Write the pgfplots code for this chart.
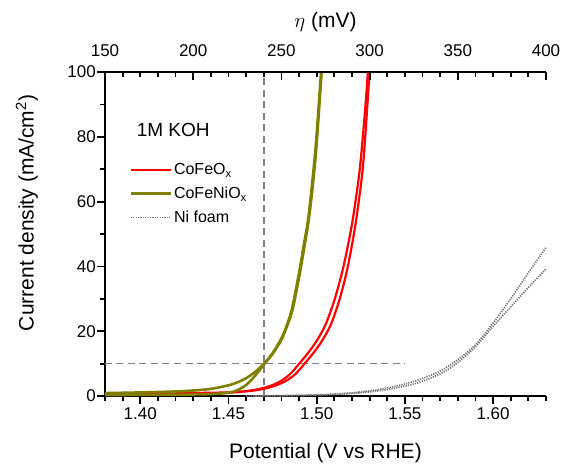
\documentclass[border=0pt]{standalone}
\usepackage{fontspec}
\setmainfont{Liberation Sans}
\usepackage{pgfplots}
\pgfplotsset{compat=1.18}
\definecolor{olivec}{RGB}{128,128,0}
\definecolor{redc}{RGB}{255,0,0}
\definecolor{dashc}{RGB}{128,128,128}
\definecolor{nic}{RGB}{115,115,115}
\pgfplotsset{
  every tick/.style={black, line width=1.8pt},
  every minor tick/.style={black, line width=1.8pt},
  every major tick/.style={black, line width=1.8pt},
  common/.style={
    scale only axis, width=441pt, height=324pt,
    ymin=0, ymax=100,
    /pgf/number format/assume math mode=true,
    tick label style={font=\fontsize{17}{20}\selectfont},
    axis line style={line width=1.8pt, -},
    major tick length=8pt, minor tick length=5pt,
    xtick style={black, line width=1.8pt},
    ytick style={black, line width=1.8pt},
    minor x tick style={black, line width=1.8pt},
    minor y tick style={black, line width=1.8pt},
  }
}
\begin{document}
\begin{tikzpicture}
\begin{axis}[common,
  xmin=1.38, xmax=1.63,
  axis x line*=bottom, axis y line*=left,
  tick align=outside,
  xtick={1.40,1.45,1.50,1.55,1.60},
  minor xtick={1.38,1.39,1.41,1.42,1.43,1.44,1.46,1.47,1.48,1.49,1.51,1.52,1.53,1.54,1.56,1.57,1.58,1.59,1.61,1.62,1.63},
  ytick={0,20,40,60,80,100},
  minor ytick={10,30,50,70,90},
  xticklabel style={/pgf/number format/.cd, fixed, fixed zerofill, precision=2},
  yticklabel style={inner xsep=1pt},
  xlabel={Potential (V vs RHE)},
  ylabel={Current density (mA/cm\textsuperscript{2})},
  xlabel style={at={(axis description cs:0.5,0)}, anchor=center, yshift=-57pt, font=\fontsize{21}{25}\selectfont},
  ylabel style={at={(axis description cs:-0.177,0.565)}, anchor=center, font=\fontsize{21}{25}\selectfont},
  legend style={at={(axis description cs:0.055,0.725)}, anchor=north west, draw=none, fill=none,
    font=\fontsize{16}{18}\selectfont, row sep=7pt, inner sep=0pt},
  legend cell align=left,
  legend image code/.code={\draw[#1] (0pt,0pt) -- (40pt,0pt);},
  clip=true,
]
% reference dashed lines
\addplot[dashc, line width=1.5pt, dash pattern=on 7pt off 4.5pt, forget plot] coordinates {(1.47,0) (1.47,100)};
\addplot[dashc, line width=1.5pt, dash pattern=on 7pt off 4.5pt, forget plot] coordinates {(1.38,10) (1.55,10)};
% Ni foam
\addplot[nic, line width=1.7pt, dash pattern=on 1.2pt off 1.2pt, smooth, forget plot] coordinates {
(1.460,0.0) (1.480,0.1) (1.500,0.35) (1.510,0.6) (1.520,1.0) (1.530,1.6) (1.540,2.5) (1.550,3.7)
(1.560,5.4) (1.570,7.7) (1.580,11.2) (1.590,15.8) (1.600,22.5) (1.610,30) (1.620,38) (1.630,45.8)};
\addplot[nic, line width=1.7pt, dash pattern=on 1.2pt off 1.2pt, smooth, forget plot] coordinates {
(1.465,0.0) (1.485,0.1) (1.505,0.35) (1.515,0.6) (1.525,1.0) (1.535,1.6) (1.545,2.5) (1.555,3.7)
(1.564,5.4) (1.573,7.7) (1.582,11.2) (1.591,15.8) (1.600,21.5) (1.610,27.5) (1.620,33.5) (1.630,39.2)};
% CoFeOx
\addplot[redc, line width=2.2pt, smooth, forget plot] coordinates {
(1.380,0.4) (1.400,0.5) (1.420,0.6) (1.440,0.8) (1.450,1.0) (1.460,1.5) (1.465,1.9) (1.470,2.5)
(1.475,3.4) (1.480,4.7) (1.485,6.8) (1.490,9.9) (1.495,13.2) (1.500,17.0) (1.505,22.0) (1.510,29.5)
(1.515,39.5) (1.520,53) (1.524,68) (1.526,79) (1.528,92) (1.529,100)};
\addplot[redc, line width=2.2pt, smooth, forget plot] coordinates {
(1.380,0.7) (1.400,0.8) (1.420,0.9) (1.440,1.0) (1.453,1.2) (1.463,1.6) (1.468,2.0) (1.473,2.6)
(1.478,3.5) (1.483,4.8) (1.488,6.8) (1.493,9.9) (1.498,13.2) (1.503,17.0) (1.508,22.0) (1.5128,29.5)
(1.5175,39.5) (1.522,53) (1.5257,68) (1.5274,79) (1.529,92) (1.530,100)};
% CoFeNiOx
\addplot[olivec, line width=2.6pt, smooth, forget plot] coordinates {
(1.380,0.9) (1.400,1.1) (1.420,1.4) (1.430,1.7) (1.440,2.2) (1.450,3.3) (1.455,4.2) (1.460,5.5)
(1.465,7.4) (1.470,9.9) (1.475,13.2) (1.480,17.8) (1.4832,22) (1.486,27) (1.490,38) (1.4925,46)
(1.4951,54.3) (1.4975,66) (1.4996,78) (1.5025,100)};
\addplot[olivec, line width=2.6pt, smooth, forget plot] coordinates {
(1.380,0.3) (1.420,0.4) (1.440,0.6) (1.450,1.0) (1.455,1.8) (1.460,3.4) (1.465,6.2) (1.4705,10.0)
(1.475,13.0) (1.480,17.3) (1.4835,22) (1.4865,27) (1.4905,38) (1.493,46) (1.4955,54.3) (1.498,66)
(1.500,78) (1.5028,100)};
% legend
\addlegendimage{redc, line width=2.2pt}
\addlegendentry{CoFeO\textsubscript{x}}
\addlegendimage{olivec, line width=2.6pt}
\addlegendentry{CoFeNiO\textsubscript{x}}
\addlegendimage{nic, line width=1.7pt, dash pattern=on 1.2pt off 1.2pt}
\addlegendentry{Ni foam}
\node[anchor=west, font=\fontsize{19}{22}\selectfont] at (axis cs:1.396,82.1) {1M KOH};
\end{axis}
\begin{axis}[common,
  xmin=150, xmax=400,
  axis x line*=top, axis y line=none,
  tick align=inside,
  xtick={150,200,250,300,350,400},
  minor xtick={160,170,180,190,210,220,230,240,260,270,280,290,310,320,330,340,360,370,380,390},
  xticklabel style={yshift=12pt},
  xlabel={$\eta$ (mV)},
  xlabel style={at={(axis description cs:0.5,1)}, anchor=center, yshift=50pt, font=\fontsize{21}{25}\selectfont},
]
\addplot[draw=none, forget plot] coordinates {(150,0) (400,100)};
\end{axis}
\pgfresetboundingbox
\path[use as bounding box] (-105pt,-68pt) rectangle (460pt,396pt);
\end{tikzpicture}
\end{document}
